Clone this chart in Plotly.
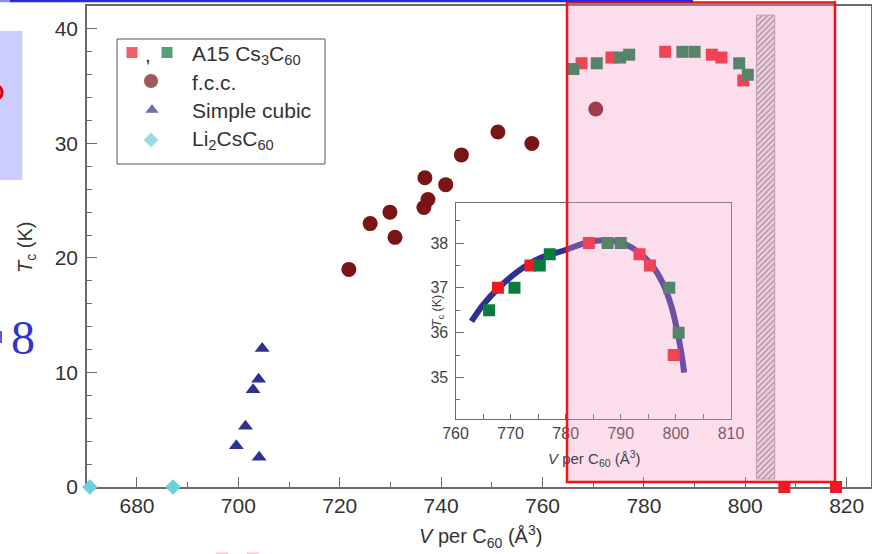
import plotly.graph_objects as go

# ---- data: Tc versus volume per C60 ----
a15_red_v = [767.7, 773.6, 784.2, 793.4, 795.3, 799.6, 807.7, 817.9]
a15_red_tc = [37.0, 37.5, 38.0, 37.75, 37.5, 35.5, 0.0, 0.0]

a15_green_v = [766.1, 770.7, 775.3, 777.1, 787.6, 790.0, 798.8, 800.5]
a15_green_tc = [36.5, 37.0, 37.5, 37.75, 38.0, 38.0, 37.0, 36.0]

fcc_v = [721.8, 726.0, 729.9, 730.9, 736.8, 737.4, 736.6, 740.9, 744.0, 751.2, 757.9, 770.5]
fcc_tc = [19.0, 23.0, 24.0, 21.8, 27.0, 25.1, 24.4, 26.4, 29.0, 31.0, 30.0, 33.0]

sc_v = [704.7, 704.0, 702.9, 701.4, 699.6, 704.1]
sc_tc = [12.1, 9.4, 8.5, 5.3, 3.6, 2.6]

li_v = [670.7, 687.1]
li_tc = [0.0, 0.0]

# dome fitted through the A15 points (inset)
fit_v = [762.9, 765.0, 768.1, 771.7, 775.3, 780.1, 783.8, 787.4, 791.0,
         793.4, 795.8, 797.6, 799.2, 800.2, 801.0, 801.5]
fit_tc = [36.25, 36.62, 37.03, 37.40, 37.66, 37.85, 38.01, 38.06, 37.96,
          37.78, 37.48, 37.11, 36.58, 36.06, 35.54, 35.11]

# hatched band (volume and Tc limits)
band_v = [802.2, 805.8]
band_tc = [0.7, 41.2]

main_xticks = [680, 700, 720, 740, 760, 780, 800, 820]
main_yticks = [0, 10, 20, 30, 40]
inset_xticks = [760, 770, 780, 790, 800, 810]
inset_yticks = [35, 36, 37, 38]

legend_labels = ["A15 Cs<sub>3</sub>C<sub>60</sub>", "f.c.c.", "Simple cubic",
                 "Li<sub>2</sub>CsC<sub>60</sub>"]

RED = "#ed1c24"
GREEN = "#0b7b3e"
MAROON = "#7b1416"
NAVY = "#2e3192"
CYAN = "#6ccfdc"
FONT = "Liberation Sans, Arial, sans-serif"
AXC = "#6a6a6a"

W, H = 872, 554
ML, MR, MT, MB = 87, 1, 6, 67


def px(x):
    return (x - ML) / (W - ML - MR)


def py(y):
    return (H - MB - y) / (H - MT - MB)


fig = go.Figure()

# hatched band
fig.add_trace(go.Bar(
    x=[(band_v[0] + band_v[1]) / 2], y=[band_tc[1] - band_tc[0]], base=[band_tc[0]],
    width=[band_v[1] - band_v[0]],
    marker=dict(color="#e6e6e6", line=dict(color="#a0a0a0", width=1),
                pattern=dict(shape="/", fgcolor="#989898", bgcolor="#eeeeee",
                             size=4, solidity=0.4)),
    showlegend=False, xaxis="x", yaxis="y"))

mk = dict(mode="markers", cliponaxis=False, showlegend=False, xaxis="x", yaxis="y")
fig.add_trace(go.Scatter(x=li_v, y=li_tc, marker=dict(symbol="diamond", size=12, color=CYAN), **mk))
fig.add_trace(go.Scatter(x=sc_v, y=sc_tc, marker=dict(symbol="triangle-up", size=13, color=NAVY), **mk))
fig.add_trace(go.Scatter(x=fcc_v, y=fcc_tc, marker=dict(symbol="circle", size=15, color=MAROON), **mk))
fig.add_trace(go.Scatter(x=a15_red_v, y=a15_red_tc, marker=dict(symbol="square", size=12, color=RED), **mk))
fig.add_trace(go.Scatter(x=a15_green_v, y=a15_green_tc, marker=dict(symbol="square", size=12, color=GREEN), **mk))

# inset
fig.add_trace(go.Scatter(x=fit_v, y=fit_tc, mode="lines", line=dict(color=NAVY, width=6, shape="spline"),
                         showlegend=False, xaxis="x2", yaxis="y2"))
fig.add_trace(go.Scatter(x=a15_red_v, y=a15_red_tc, mode="markers",
                         marker=dict(symbol="square", size=12, color=RED),
                         showlegend=False, xaxis="x2", yaxis="y2"))
fig.add_trace(go.Scatter(x=a15_green_v, y=a15_green_tc, mode="markers",
                         marker=dict(symbol="square", size=12, color=GREEN),
                         showlegend=False, xaxis="x2", yaxis="y2"))

# legend symbols on a pixel-scaled overlay axis
leg_x = [132, 167, 151, 152, 151]
leg_y = [52.5, 52.5, 81, 110, 140]
leg_sym = ["square", "square", "circle", "triangle-up", "diamond"]
leg_col = [RED, GREEN, MAROON, NAVY, CYAN]
leg_size = [12, 12, 15, 13, 12]
fig.add_trace(go.Scatter(x=leg_x, y=leg_y, mode="markers",
                         marker=dict(symbol=leg_sym, color=leg_col, size=leg_size),
                         showlegend=False, xaxis="x3", yaxis="y3", hoverinfo="skip"))

tickfont = dict(family=FONT, size=21, color="#333333")
inset_font = dict(family=FONT, size=16, color="#444444")

fig.update_layout(
    template="none",
    width=W, height=H, autosize=False,
    margin=dict(l=ML, r=MR, t=MT, b=MB, pad=0),
    paper_bgcolor="white", plot_bgcolor="white",
    showlegend=False,
    xaxis=dict(domain=[0, 1], range=[670.14, 824.8], tickvals=main_xticks,
               ticks="inside", ticklen=10, tickwidth=1.3, tickcolor=AXC,
               minor=dict(dtick=10, tick0=0, ticks="inside", ticklen=5, tickwidth=1.3, tickcolor=AXC),
               showline=True, linecolor=AXC, linewidth=1.5, mirror=True, automargin=False,
               showgrid=False, zeroline=False, tickfont=tickfont, layer="below traces",
               ticklabelstandoff=-1, anchor="y"),
    yaxis=dict(domain=[0, 1], range=[0, 42.0], tickvals=main_yticks,
               ticks="inside", ticklen=10, tickwidth=1.3, tickcolor=AXC,
               minor=dict(dtick=2, tick0=0, ticks="inside", ticklen=5, tickwidth=1.3, tickcolor=AXC),
               showline=True, linecolor=AXC, linewidth=1.5, mirror=True, automargin=False,
               showgrid=False, zeroline=False, tickfont=tickfont, layer="below traces",
               ticklabelstandoff=3, anchor="x"),
    xaxis2=dict(domain=[px(455.5), px(731)], range=[760, 810], tickvals=inset_xticks,
                ticks="inside", ticklen=5, tickwidth=1, tickcolor=AXC,
                minor=dict(dtick=5, tick0=0, ticks="inside", ticklen=5, tickwidth=1, tickcolor=AXC),
                showline=True, linecolor=AXC, linewidth=1.2, mirror=True, automargin=False,
                showgrid=False, zeroline=False, tickfont=inset_font, anchor="y2",
                ticklabelstandoff=0),
    yaxis2=dict(domain=[py(418.7), py(202.7)], range=[34.08, 38.9], tickvals=inset_yticks,
                ticks="inside", ticklen=8, tickwidth=1, tickcolor=AXC,
                minor=dict(dtick=0.5, tick0=0, ticks="inside", ticklen=4, tickwidth=1, tickcolor=AXC),
                showline=True, linecolor=AXC, linewidth=1.2, mirror=True, automargin=False,
                showgrid=False, zeroline=False, tickfont=inset_font, anchor="x2",
                ticklabelstandoff=3),
    xaxis3=dict(overlaying="x", range=[ML, W - MR], visible=False, anchor="y3", automargin=False),
    yaxis3=dict(overlaying="y", range=[H - MB, MT], visible=False, anchor="x3", automargin=False),
)

shapes = []
# inset white backing
shapes.append(dict(type="rect", xref="paper", yref="paper", layer="below",
                   x0=px(455.5), x1=px(731), y0=py(418.7), y1=py(202.7),
                   fillcolor="white", line=dict(width=0)))
# legend box
shapes.append(dict(type="rect", xref="paper", yref="paper", layer="above",
                   x0=px(117), x1=px(325), y0=py(164), y1=py(39),
                   line=dict(color="#555555", width=1)))
# highlighted region
shapes.append(dict(type="rect", xref="paper", yref="paper", layer="above",
                   x0=px(567), x1=px(835), y0=py(482), y1=py(2.5),
                   fillcolor="rgba(245,150,195,0.32)", line=dict(color="#ff1010", width=2.5)))
# slide decorations around the figure
shapes.append(dict(type="rect", xref="paper", yref="paper", layer="above",
                   x0=px(0), x1=px(22.5), y0=py(180), y1=py(31),
                   fillcolor="#ccccff", line=dict(width=0)))
shapes.append(dict(type="rect", xref="paper", yref="paper", layer="above",
                   x0=px(10), x1=px(693), y0=py(2.2), y1=py(0),
                   fillcolor="#2b2bd0", line=dict(width=0)))
shapes.append(dict(type="rect", xref="paper", yref="paper", layer="above",
                   x0=px(0), x1=px(10), y0=py(2.2), y1=py(0),
                   fillcolor="#8c8ce6", line=dict(width=0)))
shapes.append(dict(type="circle", xref="paper", yref="paper", layer="above",
                   x0=px(-24), x1=px(2.0), y0=py(102), y1=py(83),
                   line=dict(color="#dd0000", width=3)))
shapes.append(dict(type="rect", xref="paper", yref="paper", layer="above",
                   x0=px(0), x1=px(2), y0=py(343), y1=py(331),
                   fillcolor="#5a5ad8", line=dict(width=0)))
for a, b in [(216, 228), (247, 259)]:
    shapes.append(dict(type="rect", xref="paper", yref="paper", layer="above",
                       x0=px(a), x1=px(b), y0=py(554), y1=py(552.5),
                       fillcolor="#f3c4d4", line=dict(width=0)))
fig.update_layout(shapes=shapes)

ann = []
lab = dict(family=FONT, size=21, color="#333333")
ann.append(dict(text="<i>V</i> per C<sub>60</sub> (Å<sup>3</sup>)", xref="paper", yref="paper",
                x=px(480), y=py(536), xanchor="center", yanchor="middle", showarrow=False,
                font=dict(family=FONT, size=20, color="#333333")))
ann.append(dict(text="<i>T</i><sub>c</sub> (K)", xref="paper", yref="paper", textangle=-90,
                x=px(27), y=py(248), xanchor="center", yanchor="middle", showarrow=False,
                font=dict(family=FONT, size=20, color="#333333")))
ann.append(dict(text="<i>V</i> per C<sub>60</sub> (Å<sup>3</sup>)", xref="paper", yref="paper",
                x=px(594), y=py(458), xanchor="center", yanchor="middle", showarrow=False,
                font=dict(family=FONT, size=15, color="#444444")))
ann.append(dict(text="<i>T</i><sub>c</sub> (K)", xref="paper", yref="paper", textangle=-90,
                x=px(438), y=py(311), xanchor="center", yanchor="middle", showarrow=False,
                font=dict(family=FONT, size=12.5, color="#444444")))
leg_text_y = [55, 82, 110, 140]
for t, yy in zip(legend_labels, leg_text_y):
    ann.append(dict(text=t, xref="paper", yref="paper", x=px(190), y=py(yy),
                    xanchor="left", yanchor="middle", showarrow=False, font=lab))
ann.append(dict(text=",", xref="paper", yref="paper", x=px(148), y=py(54),
                xanchor="center", yanchor="middle", showarrow=False, font=lab))
ann.append(dict(text="8", xref="paper", yref="paper", x=px(37), y=py(337),
                xanchor="right", yanchor="middle", showarrow=False,
                font=dict(family="Liberation Serif, Times New Roman, serif", size=48, color="#3434cc")))
fig.update_layout(annotations=ann)

fig.write_html(
    "out.html",
    config={"responsive": False},
    post_script="document.documentElement.style.overflow='hidden';document.body.style.overflow='hidden';",
)
